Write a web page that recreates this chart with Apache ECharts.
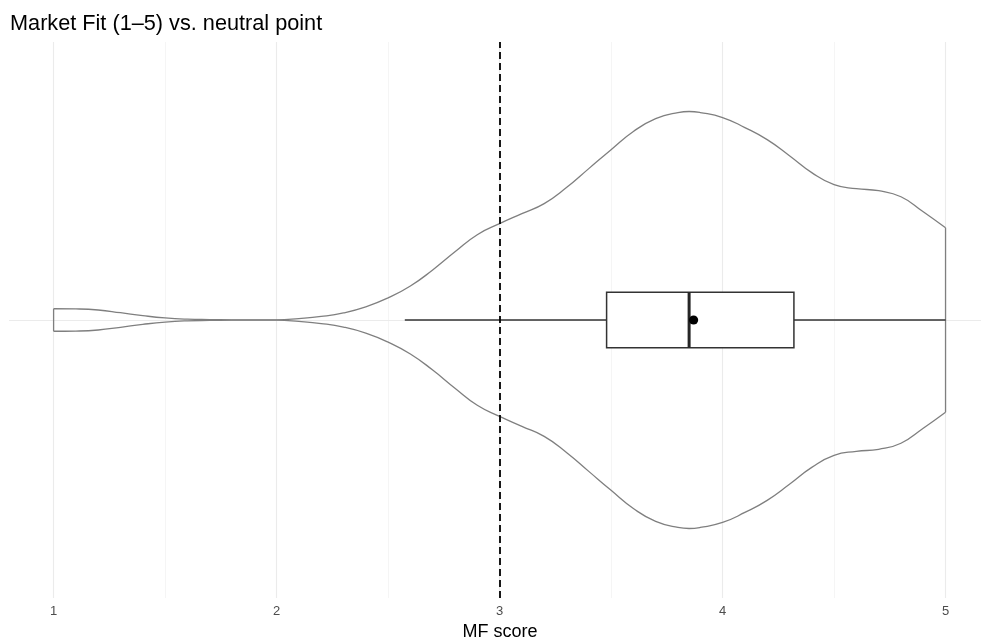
<!DOCTYPE html>
<html>
<head>
<meta charset="utf-8">
<script src="https://cdn.jsdelivr.net/npm/echarts@6/dist/echarts.min.js"></script>
<style>
  html, body { margin: 0; padding: 0; background: #fff; }
  #chart { width: 981px; height: 639px; }
</style>
</head>
<body>
<div id="chart"></div>
<script>
// ---- Data ----
const titleText = 'Market Fit (1–5) vs. neutral point';
const axisTitle = 'MF score';
const majorTicks = [1, 2, 3, 4, 5];
const minorTicks = [1.5, 2.5, 3.5, 4.5];
const neutralPoint = 3;

// Violin outline: x positions and relative density (max = 1)
const violinX = [1.0, 1.1, 1.2, 1.3, 1.4, 1.5, 1.6, 1.7, 1.8, 1.9, 2.0, 2.1, 2.2, 2.3, 2.4, 2.5, 2.6, 2.7, 2.8, 2.9,
                 3.0, 3.1, 3.2, 3.3, 3.4, 3.5, 3.6, 3.7, 3.8, 3.85, 3.9, 4.0, 4.1, 4.2, 4.3, 4.4, 4.5, 4.6, 4.7, 4.8, 4.9, 5.0];
const violinD = [0.054, 0.053, 0.048, 0.035, 0.021, 0.010, 0.004, 0.002, 0.001, 0.0005, 0.001, 0.007, 0.017, 0.034, 0.063, 0.106, 0.163, 0.240, 0.327, 0.409,
                 0.462, 0.510, 0.558, 0.635, 0.726, 0.817, 0.904, 0.966, 0.995, 1.000, 0.995, 0.971, 0.923, 0.865, 0.788, 0.707, 0.649, 0.630, 0.620, 0.591, 0.519, 0.442];

// Box plot statistics
const whiskerLow = 2.575;
const q1 = 3.48;
const median = 3.85;
const q3 = 4.32;
const whiskerHigh = 5.0;
const meanValue = 3.87;

// ---- Build ----
const center = 1;          // single discrete position
const violinHalf = 0.45;   // violin width 0.9
const boxHalf = 0.06;      // box width 0.12

const topLine = violinX.map((x, i) => [x, center + violinHalf * violinD[i]]);
const botLine = violinX.map((x, i) => [x, center - violinHalf * violinD[i]]);
const leftEdge = [topLine[0], botLine[0]];
const rightEdge = [topLine[topLine.length - 1], botLine[botLine.length - 1]];

const outline = { color: '#7f7f7f', width: 1.3 };
const lineSeries = (name, data, smooth) => ({
  name, type: 'line', data, smooth: smooth ? 0.5 : false,
  symbol: 'none', silent: true, z: 3,
  lineStyle: { color: outline.color, width: outline.width }
});

const chart = echarts.init(document.getElementById('chart'), null, { renderer: 'canvas' });
chart.setOption({
  animation: false,
  backgroundColor: '#ffffff',
  title: {
    text: titleText, left: 5, top: 8,
    textStyle: { fontFamily: 'Liberation Sans', fontSize: 21.7, fontWeight: 'normal', color: '#000' }
  },
  grid: { left: 9, top: 42, right: 0, height: 556, outerBoundsMode: 'none', containLabel: false },
  xAxis: {
    type: 'value', min: 0.8, max: 5.159,
    name: axisTitle, nameLocation: 'middle', nameGap: 21,
    nameTextStyle: { fontFamily: 'Liberation Sans', fontSize: 18, color: '#000', padding: [0, 0, 0, 10] },
    axisLine: { show: false }, axisTick: { show: false }, splitLine: { show: false },
    axisLabel: { customValues: majorTicks, margin: 7, fontFamily: 'Liberation Sans', fontSize: 13, color: '#4d4d4d' }
  },
  yAxis: { type: 'value', min: 0.4, max: 1.6, show: false },
  series: [
    {
      name: 'grid', type: 'line', data: [], silent: true, z: 1,
      markLine: {
        z: 1, silent: true, symbol: 'none', animation: false, label: { show: false },
        data: [
          ...majorTicks.map(v => ({ xAxis: v, lineStyle: { color: '#ebebeb', width: 1.1, type: 'solid' } })),
          ...minorTicks.map(v => ({ xAxis: v, lineStyle: { color: '#f2f2f2', width: 0.8, type: 'solid' } })),
          { yAxis: center, lineStyle: { color: '#ebebeb', width: 1.1, type: 'solid' } }
        ]
      }
    },
    lineSeries('violinTop', topLine, true),
    lineSeries('violinBottom', botLine, true),
    lineSeries('violinLeft', leftEdge, false),
    lineSeries('violinRight', rightEdge, false),
    {
      name: 'box', type: 'custom', z: 5, silent: true,
      data: [[whiskerLow, q1, median, q3, whiskerHigh, meanValue]],
      renderItem: function (params, api) {
        const wl = api.coord([api.value(0), center]);
        const b1 = api.coord([api.value(1), center + boxHalf]);
        const md = api.coord([api.value(2), center]);
        const b3 = api.coord([api.value(3), center - boxHalf]);
        const wh = api.coord([api.value(4), center]);
        const mn = api.coord([api.value(5), center]);
        const st = { stroke: '#333333', lineWidth: 1.5, fill: null };
        return {
          type: 'group',
          children: [
            { type: 'line', shape: { x1: wl[0], y1: wl[1], x2: b1[0], y2: wl[1] }, style: st },
            { type: 'line', shape: { x1: b3[0], y1: wh[1], x2: wh[0], y2: wh[1] }, style: st },
            { type: 'rect', shape: { x: b1[0], y: b1[1], width: b3[0] - b1[0], height: b3[1] - b1[1] },
              style: { stroke: '#333333', lineWidth: 1.5, fill: '#ffffff' } },
            { type: 'line', shape: { x1: md[0], y1: b1[1], x2: md[0], y2: b3[1] },
              style: { stroke: '#262626', lineWidth: 3, fill: null } },
            { type: 'circle', shape: { cx: mn[0], cy: mn[1], r: 4.6 }, style: { fill: '#000000', stroke: null } }
          ]
        };
      }
    },
    {
      name: 'neutral', type: 'line', data: [], silent: true, z: 10,
      markLine: {
        z: 10, silent: true, symbol: 'none', animation: false, label: { show: false },
        data: [{ xAxis: neutralPoint }],
        lineStyle: { color: '#000000', width: 1.8, type: [7, 4] }
      }
    }
  ]
});
</script>
</body>
</html>
